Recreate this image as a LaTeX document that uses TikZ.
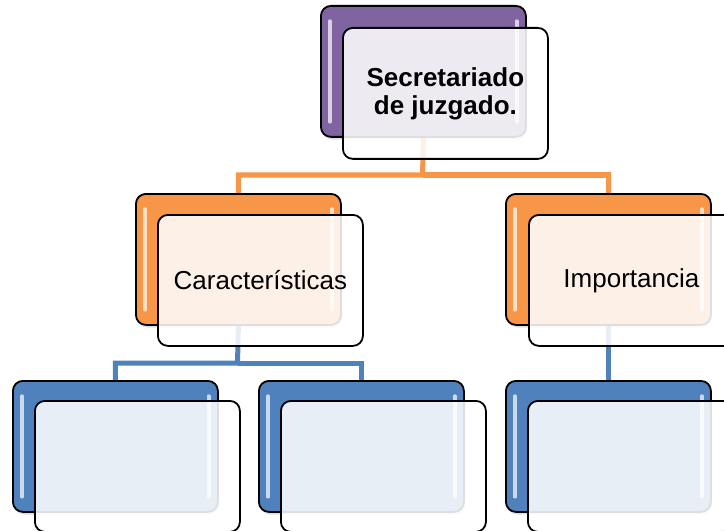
\documentclass[tikz,border=0pt]{standalone}
\usepackage{fontspec}
\setmainfont{Liberation Sans}
\usetikzlibrary{shadows}
\pgfdeclarelayer{bg}
\pgfsetlayers{bg,main}
\definecolor{cpurple}{HTML}{8064A2}
\definecolor{corange}{HTML}{F79646}
\definecolor{cblue}{HTML}{4F81BD}
\begin{document}
\begin{tikzpicture}[x=0.75pt,y=-0.75pt,
  backbox/.style={draw=black, line width=1.35pt, rounded corners=7.5pt, anchor=north west,
    minimum width=153.75pt, minimum height=98.25pt, inner sep=0pt,
    drop shadow={opacity=0.25, shadow xshift=1pt, shadow yshift=-2pt}},
  frontbox/.style={draw=black, line width=1.35pt, rounded corners=7.5pt, anchor=north west,
    minimum width=153.75pt, minimum height=98.25pt, inner sep=0pt,
    fill=white, fill opacity=0.87, text opacity=1, font=\fontsize{19.5pt}{21pt}\selectfont, align=center},
  oline/.style={draw=corange, line width=3.75pt},
  bline/.style={draw=cblue, line width=3.75pt},
  hilite/.style={draw=white, line width=2.6pt, line cap=round, opacity=0.7}
]
\useasboundingbox (0,0) rectangle (724,531);
\begin{scope}
\clip (0,0) rectangle (724,531);
\coordinate (ojoin) at (422.5,175);
\coordinate (bjoin) at (237.5,363);
% back boxes
\node[backbox, fill=cpurple] (topb) at (320,5) {};
\node[backbox, fill=corange] (charb) at (135,193) {};
\node[backbox, fill=corange] (impb) at (505,193) {};
\node[backbox, fill=cblue] (b1b) at (12,380) {};
\node[backbox, fill=cblue] (b2b) at (258,380) {};
\node[backbox, fill=cblue] (b3b) at (505,380) {};
% connectors behind
\begin{pgfonlayer}{bg}
\draw[oline] (topb.south) -- (ojoin) -| (charb.north);
\draw[oline] (ojoin) -| (impb.north);
\draw[bline] (charb.south) -- (bjoin) -| (b1b.north);
\draw[bline] (bjoin) -| (b2b.north);
\draw[bline] (impb.south) -- (b3b.north);
\end{pgfonlayer}
% highlights
\foreach \n in {topb,charb,impb,b1b,b2b,b3b}{
  \draw[hilite] ([xshift=7.5pt,yshift=-12pt]\n.north west) -- ([xshift=7.5pt,yshift=12pt]\n.south west);
  \draw[hilite] ([xshift=-7.5pt,yshift=-12pt]\n.north east) -- ([xshift=-7.5pt,yshift=12pt]\n.south east);
}
% front boxes
\node[frontbox, font=\bfseries\fontsize{19.5pt}{21pt}\selectfont] (topf) at (342,27) {Secretariado\\de juzgado.};
\node[frontbox] (charf) at (157,214) {Características};
\node[frontbox] (impf) at (528,214) {Importancia};
\node[frontbox] (b1f) at (34,400) {};
\node[frontbox] (b2f) at (280,400) {};
\node[frontbox] (b3f) at (527,400) {};
\end{scope}
\end{tikzpicture}
\end{document}
